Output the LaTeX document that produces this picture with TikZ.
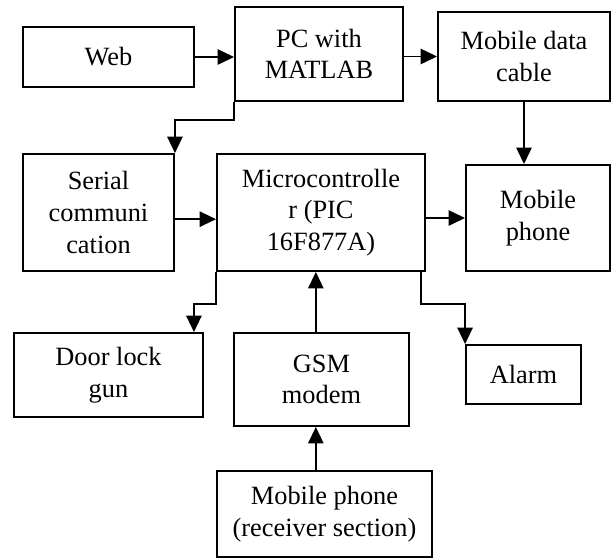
\documentclass[tikz,border=0pt]{standalone}
\usepackage{fontspec}
\setmainfont{Liberation Serif}
\usetikzlibrary{arrows.meta,positioning}
\tikzset{
  blk/.style={rectangle,draw=black,line width=1.6pt,align=center,inner sep=2pt,
    font=\rmfamily\fontsize{22.5}{27}\selectfont},
  arr/.style={-{Triangle[length=14pt,width=13pt]},line width=1.6pt}
}
\begin{document}
\begin{tikzpicture}[x=0.03cm,y=-0.03cm]
  \useasboundingbox (0,0) rectangle (612,558);

  %% Top row
  \node[blk,minimum width=5.13cm,minimum height=1.8cm] (web) at (108.5,57) {Web};
  \node[blk,minimum width=5.04cm,minimum height=2.82cm] (pc) at (319,54) {PC with\\MATLAB};
  \node[blk,minimum width=5.16cm,minimum height=2.67cm] (mdc) at (524,56.5) {Mobile data\\cable};

  %% Middle row
  \node[blk,minimum width=4.53cm,minimum height=3.51cm] (serial) at (98.5,212.5) {Serial\\communi\\cation};
  \node[blk,minimum width=6.24cm,minimum height=3.51cm] (micro) at (321,212.5) {Microcontrolle\\r (PIC\\16F877A)};
  \node[blk,minimum width=4.32cm,minimum height=3.18cm] (phone) at (538,218) {Mobile\\phone};

  %% Lower rows
  \node[blk,minimum width=5.67cm,minimum height=2.52cm] (door) at (108.5,375) {Door lock\\gun};
  \node[blk,minimum width=5.25cm,minimum height=2.79cm] (gsm) at (321.5,379.5) {GSM\\modem};
  \node[blk,minimum width=3.45cm,minimum height=1.77cm] (alarm) at (523.5,374.5) {Alarm};
  \node[blk,minimum width=6.45cm,minimum height=2.58cm] (rx) at (324.5,514) {Mobile phone\\(receiver section)};

  \coordinate (g) at ([xshift=-0.17cm]gsm.north);

  \draw[arr] (web.east) -- (web.east -| pc.west);
  \draw[arr] (pc.east |- mdc.west) -- (mdc.west);
  \draw[arr] (pc.south west) -- ++(0,18) -| (serial.north east);
  \draw[arr] (mdc.south) -- (mdc.south |- phone.north);
  \draw[arr] ([yshift=-0.2cm]serial.east) -- ([yshift=-0.2cm]micro.west);
  \draw[arr] (micro.east |- phone.west) -- (phone.west);
  \draw[arr] (micro.south west) -- ++(0,32) -| ([xshift=-0.3cm]door.north east);
  \draw[arr] ([xshift=-0.15cm]micro.south east) -- ++(0,32) -| (alarm.north west);
  \draw[arr] (g) -- (g |- micro.south);
  \draw[arr] (rx.north -| g) -- (g |- gsm.south);
\end{tikzpicture}
\end{document}
